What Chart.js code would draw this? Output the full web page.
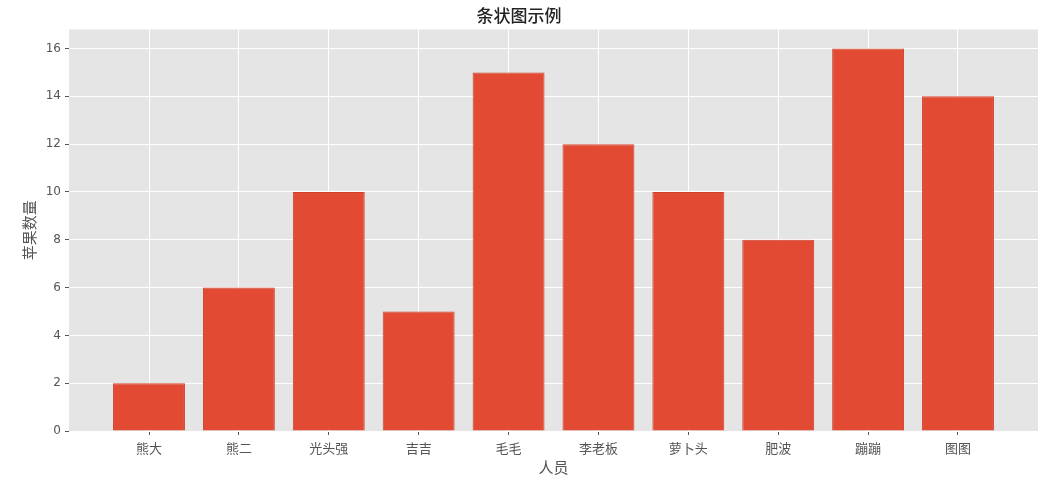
<!DOCTYPE html>
<html>
<head>
<meta charset="utf-8">
<script src="https://cdn.jsdelivr.net/npm/chart.js@4"></script>
<style>
  html, body { margin: 0; padding: 0; background: #fff; }
  #wrap { width: 1048px; height: 484px; }
</style>
</head>
<body>
<div id="wrap"><canvas id="chart"></canvas></div>
<script>
const people = ['熊大', '熊二', '光头强', '吉吉', '毛毛', '李老板', '萝卜头', '肥波', '蹦蹦', '图图']
const apples = [2, 6, 10, 5, 15, 12, 10, 8, 16, 14]
const yTicks = [0, 2, 4, 6, 8, 10, 12, 14, 16]

const cjk = '"Noto Sans CJK SC", "Noto Sans", sans-serif'
const barColor = '#E24A33'
const textColor = '#555555'

// grey panel behind the plot, like ggplot style
const panelBg = {
    id: 'panelBg',
    beforeDraw(chart) {
        const a = chart.chartArea
        const ctx = chart.ctx
        ctx.save()
        ctx.fillStyle = '#E5E5E5'
        ctx.fillRect(a.left, a.top, a.right - a.left, a.bottom - a.top)
        ctx.restore()
    }
}

const ctx = document.getElementById('chart').getContext('2d')
new Chart(ctx, {
    type: 'bar',
    data: {
        datasets: [{
            label: '苹果数量',
            data: apples.map((v, i) => ({x: i, y: v})),
            backgroundColor: barColor,
            borderColor: '#D0402A',
            borderWidth: 1,
            barPercentage: 0.8,
            categoryPercentage: 1.0
        }]
    },
    options: {
        responsive: true,
        maintainAspectRatio: false,
        animation: false,
        layout: {padding: {left: 0, right: 10, top: 0, bottom: 0}},
        plugins: {
            legend: {display: false},
            tooltip: {enabled: false},
            title: {
                display: true,
                text: '条状图示例',
                color: '#222222',
                font: {family: cjk, size: 17, weight: '500'},
                padding: {top: 5, bottom: 4}
            }
        },
        scales: {
            x: {
                type: 'linear',
                min: -0.89,
                max: 9.89,
                offset: false,
                afterBuildTicks: s => { s.ticks = people.map((p, i) => ({value: i})) },
                afterFit: s => { s.height = 53 },
                ticks: {
                    color: textColor,
                    font: {family: cjk, size: 13},
                    padding: 5,
                    maxRotation: 0,
                    autoSkip: false,
                    callback: v => people[v]
                },
                grid: {offset: false, color: '#FFFFFF', lineWidth: 1, tickColor: '#555555', tickLength: 4},
                border: {display: false},
                title: {
                    display: true,
                    text: '人员',
                    color: textColor,
                    font: {family: cjk, size: 15},
                    padding: {top: 0, bottom: 8}
                }
            },
            y: {
                min: 0,
                max: 16.8,
                afterBuildTicks: s => { s.ticks = yTicks.map(v => ({value: v})) },
                afterFit: s => { s.width = 69 },
                ticks: {
                    color: textColor,
                    font: {family: 'DejaVu Sans', size: 12},
                    padding: 4
                },
                grid: {color: '#FFFFFF', lineWidth: 1, tickColor: '#555555', tickLength: 4},
                border: {display: false},
                title: {
                    display: true,
                    text: '苹果数量',
                    color: textColor,
                    font: {family: cjk, size: 15},
                    padding: {top: 20, bottom: 0}
                }
            }
        }
    },
    plugins: [panelBg]
})
</script>
</body>
</html>
